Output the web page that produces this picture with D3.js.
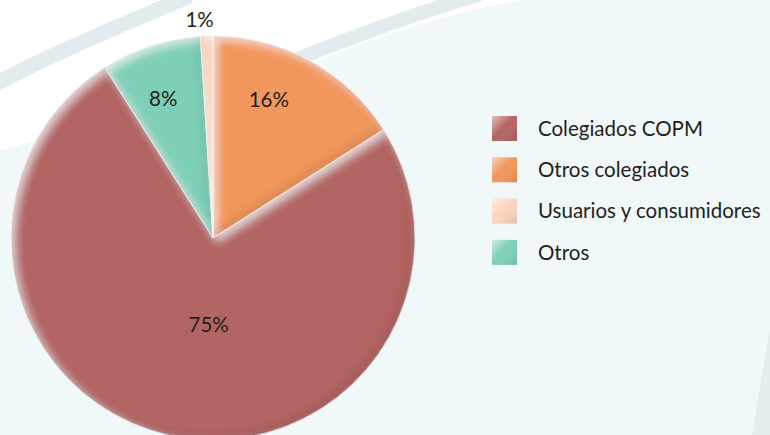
<!DOCTYPE html>
<html>
<head>
<meta charset="utf-8">
<script src="https://cdn.jsdelivr.net/npm/d3@7"></script>
<style>
  html, body { margin: 0; padding: 0; background: #f1f8f9; }
  svg { display: block; }
</style>
</head>
<body>
<div id="chart"></div>
<script>
// legend order
const categories = ["Colegiados COPM", "Otros colegiados", "Usuarios y consumidores", "Otros"];
const values = [75, 16, 1, 8];
const labels = ["75%", "16%", "1%", "8%"];
const colors = ["#b36564", "#f1975b", "#fbd5bd", "#7ecfb7"];
// clockwise from 12 o'clock, as drawn
const pieOrder = ["Otros colegiados", "Colegiados COPM", "Otros", "Usuarios y consumidores"];

const width = 770, height = 435;
const cx = 213, cy = 238, radius = 202;

const data = pieOrder.map(name => {
  const i = categories.indexOf(name);
  return { name, value: values[i], label: labels[i], color: colors[i] };
});

const svg = d3.select("#chart").append("svg")
  .attr("width", width)
  .attr("height", height)
  .attr("font-family", "Lato, 'Open Sans', sans-serif");

const defs = svg.append("defs");

// bevel-ish filter: light rim on top-left edges, dark rim on bottom-right edges
const f = defs.append("filter").attr("id", "bevel")
  .attr("x", "-10%").attr("y", "-10%").attr("width", "120%").attr("height", "120%");
f.append("feComponentTransfer").attr("in", "SourceAlpha").attr("result", "inv")
  .append("feFuncA").attr("type", "table").attr("tableValues", "1 0");
f.append("feGaussianBlur").attr("in", "inv").attr("stdDeviation", 5).attr("result", "blur");
f.append("feOffset").attr("in", "blur").attr("dx", 4).attr("dy", 4).attr("result", "offL");
f.append("feComposite").attr("in", "offL").attr("in2", "SourceAlpha").attr("operator", "in").attr("result", "edgeL");
f.append("feFlood").attr("flood-color", "#ffffff").attr("flood-opacity", 0.65).attr("result", "white");
f.append("feComposite").attr("in", "white").attr("in2", "edgeL").attr("operator", "in").attr("result", "lightRim");
f.append("feOffset").attr("in", "blur").attr("dx", -4).attr("dy", -4).attr("result", "offD");
f.append("feComposite").attr("in", "offD").attr("in2", "SourceAlpha").attr("operator", "in").attr("result", "edgeD");
f.append("feFlood").attr("flood-color", "#000000").attr("flood-opacity", 0.22).attr("result", "black");
f.append("feComposite").attr("in", "black").attr("in2", "edgeD").attr("operator", "in").attr("result", "darkRim");
const m = f.append("feMerge");
m.append("feMergeNode").attr("in", "SourceGraphic");
m.append("feMergeNode").attr("in", "lightRim");
m.append("feMergeNode").attr("in", "darkRim");

// legend swatch gradient overlay
const lg = defs.append("linearGradient").attr("id", "swatchShade")
  .attr("x1", 0).attr("y1", 0).attr("x2", 1).attr("y2", 1);
lg.append("stop").attr("offset", "0%").attr("stop-color", "#fff").attr("stop-opacity", 0.6);
lg.append("stop").attr("offset", "45%").attr("stop-color", "#fff").attr("stop-opacity", 0);
lg.append("stop").attr("offset", "100%").attr("stop-color", "#000").attr("stop-opacity", 0.12);

// background swooshes
const bg = svg.append("g");
bg.append("path")
  .attr("d", "M0,0 L520,0 C470,10 380,30 290,75 L0,150 Z")
  .attr("fill", "#ffffff");
bg.append("path")
  .attr("d", "M-5,84 C50,55 110,30 190,-4")
  .attr("fill", "none").attr("stroke", "#e2ebed").attr("stroke-width", 15);
bg.append("path")
  .attr("d", "M270,70 C320,50 380,25 480,-6")
  .attr("fill", "none").attr("stroke", "#e2ebed").attr("stroke-width", 14);
bg.append("path")
  .attr("d", "M770,330 L770,435 L752,435 C758,400 763,365 770,330 Z")
  .attr("fill", "#e4eced");

const pie = d3.pie().sort(null).value(d => d.value);
const arcs = pie(data);
const arc = d3.arc().innerRadius(0).outerRadius(radius);

const g = svg.append("g").attr("transform", `translate(${cx},${cy})`);

g.selectAll("path.slice")
  .data(arcs)
  .join("path")
  .attr("class", "slice")
  .attr("d", arc)
  .attr("fill", d => d.data.color)
  .attr("stroke", "#f4f7f7")
  .attr("stroke-width", 0.8)
  .attr("filter", "url(#bevel)");

// label placement: [radius fraction, angle shift in radians]
const labelPlace = {
  "Otros colegiados": [0.74, -0.12],
  "Colegiados COPM": [0.43, -0.17],
  "Otros": [0.73, -0.03],
  "Usuarios y consumidores": [1.08, -0.03]
};

g.selectAll("text.lbl")
  .data(arcs)
  .join("text")
  .attr("class", "lbl")
  .attr("transform", d => {
    const [rf, da] = labelPlace[d.data.name];
    const a = (d.startAngle + d.endAngle) / 2 + da;
    return `translate(${Math.sin(a) * radius * rf},${-Math.cos(a) * radius * rf})`;
  })
  .attr("text-anchor", "middle")
  .attr("dy", "0.35em")
  .attr("font-size", 20.5)
  .attr("fill", "#231f20")
  .text(d => d.data.label);

// legend
const legend = svg.append("g").attr("transform", "translate(492,116)");
const row = legend.selectAll("g")
  .data(categories)
  .join("g")
  .attr("transform", (d, i) => `translate(0,${i * 41.3})`);
row.append("rect").attr("width", 25).attr("height", 25)
  .attr("fill", (d, i) => colors[i]);
row.append("rect").attr("width", 25).attr("height", 25)
  .attr("fill", "url(#swatchShade)");
row.append("text")
  .attr("x", 46).attr("y", 12.5).attr("dy", "0.35em")
  .attr("font-size", 20.5)
  .attr("fill", "#231f20")
  .text(d => d);
</script>
</body>
</html>
